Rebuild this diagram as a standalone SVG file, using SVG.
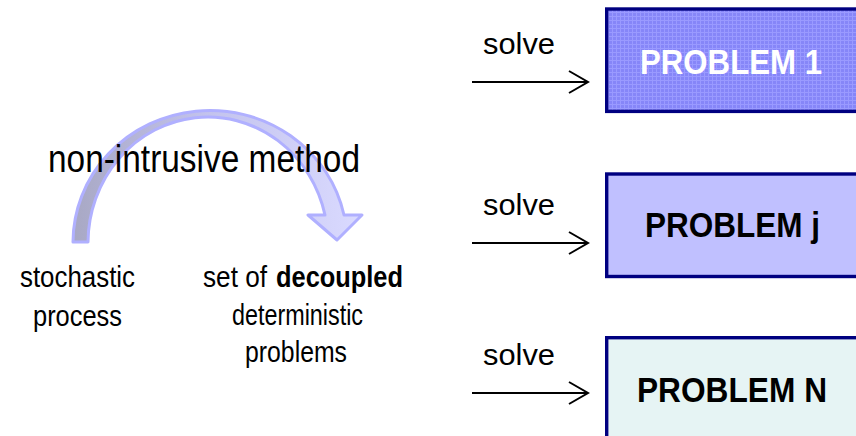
<svg xmlns="http://www.w3.org/2000/svg" width="856" height="436" viewBox="0 0 856 436">
  <defs>
    <style>
      .narrow { font-family: "Liberation Sans Narrow", "Arial Narrow", "Liberation Sans", Arial, sans-serif; fill: #000; }
      .label { font-family: "Liberation Sans", Arial, sans-serif; font-size: 29px; fill: #000; }
      .box { stroke: #000080; stroke-width: 3.4; }
      .title { font-size: 35px; font-weight: bold; }
      .conn { stroke: #000; stroke-width: 2; fill: none; }
    </style>
    <!-- fine light grid used as texture on the first box -->
    <pattern id="grid" width="4" height="4" patternUnits="userSpaceOnUse">
      <rect width="4" height="4" fill="#8686f8"/>
      <rect x="0" y="0" width="4" height="1" fill="#9a9aff"/>
      <rect x="0" y="0" width="1" height="4" fill="#9a9aff"/>
    </pattern>
    <linearGradient id="bandFill" x1="73" y1="0" x2="362" y2="0" gradientUnits="userSpaceOnUse">
      <stop offset="0" stop-color="#a8a8c4"/>
      <stop offset="0.45" stop-color="#c2c2ec"/>
      <stop offset="1" stop-color="#dadaff"/>
    </linearGradient>
  </defs>

  <rect width="856" height="436" fill="#ffffff"/>

  <!-- curved transformation arrow -->
  <g id="curved-arrow">
    <path d="M73,242 A137,132 0 0 1 344,215 L362,215 L337,240 L308,215 L325,215 A120,126 0 0 0 88,242 Z"
          fill="url(#bandFill)" stroke="#b0b0ff" stroke-width="3" stroke-linejoin="round"/>
  </g>

  <g id="method-label">
    <text class="narrow" x="48" y="172" font-size="38" textLength="312" lengthAdjust="spacingAndGlyphs">non-intrusive method</text>
  </g>

  <g id="stochastic-process">
    <text class="narrow" x="20" y="287" font-size="30" textLength="115" lengthAdjust="spacingAndGlyphs">stochastic</text>
    <text class="narrow" x="33" y="326" font-size="30" textLength="89" lengthAdjust="spacingAndGlyphs">process</text>
  </g>

  <g id="decoupled-problems">
    <text class="narrow" x="203" y="287" font-size="30" textLength="64" lengthAdjust="spacingAndGlyphs">set of</text>
    <text class="narrow" x="276" y="287" font-size="30" font-weight="bold" textLength="127" lengthAdjust="spacingAndGlyphs">decoupled</text>
    <text class="narrow" x="232" y="325" font-size="30" textLength="131" lengthAdjust="spacingAndGlyphs">deterministic</text>
    <text class="narrow" x="245" y="362" font-size="30" textLength="102" lengthAdjust="spacingAndGlyphs">problems</text>
  </g>

  <!-- solve connectors -->
  <g id="connectors">
    <line class="conn" x1="472" y1="82" x2="587" y2="82"/>
    <polyline class="conn" points="569,71 588,82 569,93"/>
    <line class="conn" x1="472" y1="243" x2="587" y2="243"/>
    <polyline class="conn" points="569,232 588,243 569,254"/>
    <line class="conn" x1="472" y1="393" x2="587" y2="393"/>
    <polyline class="conn" points="569,382 588,393 569,404"/>
    <text class="label" x="483" y="54" textLength="72" lengthAdjust="spacingAndGlyphs">solve</text>
    <text class="label" x="483" y="215" textLength="72" lengthAdjust="spacingAndGlyphs">solve</text>
    <text class="label" x="483" y="365" textLength="72" lengthAdjust="spacingAndGlyphs">solve</text>
  </g>

  <g id="problem-1">
    <rect class="box" x="606.7" y="9" width="270" height="102.4" fill="url(#grid)"/>
    <text class="narrow title" x="640" y="74" textLength="182" lengthAdjust="spacingAndGlyphs" style="fill:#ffffff">PROBLEM 1</text>
  </g>

  <g id="problem-j">
    <rect class="box" x="606.7" y="174" width="270" height="102.5" fill="#c0c0ff"/>
    <text class="narrow title" x="645" y="237" textLength="175" lengthAdjust="spacingAndGlyphs">PROBLEM j</text>
  </g>

  <g id="problem-n">
    <rect class="box" x="606.7" y="337.7" width="270" height="130" fill="#e6f4f4"/>
    <text class="narrow title" x="637" y="402" textLength="190" lengthAdjust="spacingAndGlyphs">PROBLEM N</text>
  </g>
</svg>
